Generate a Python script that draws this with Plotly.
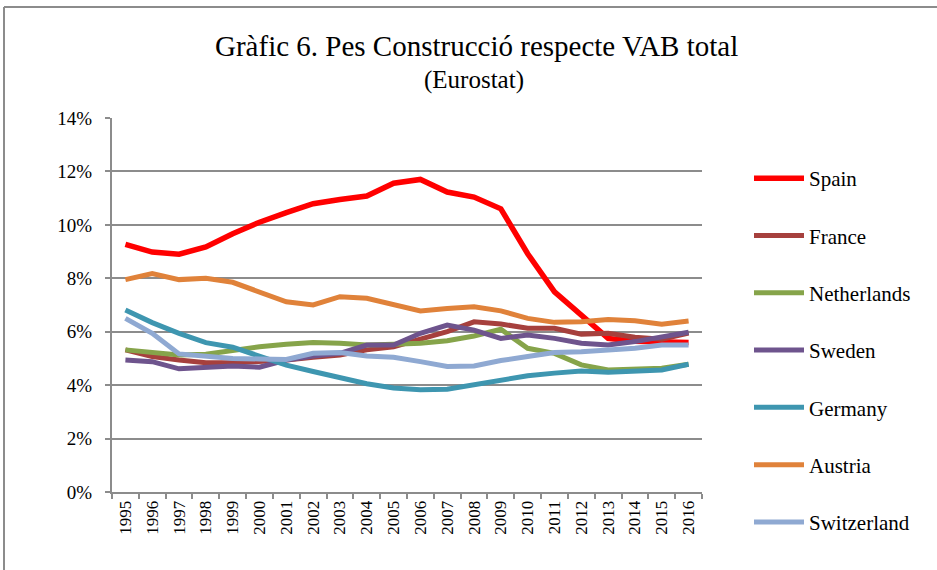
import plotly.graph_objects as go

years = [str(y) for y in range(1995, 2017)]

spain = [9.27, 8.98, 8.90, 9.17, 9.67, 10.10, 10.46, 10.79, 10.95, 11.08, 11.56,
         11.70, 11.23, 11.04, 10.60, 8.92, 7.49, 6.65, 5.75, 5.64, 5.60, 5.60]
france = [5.32, 5.07, 4.94, 4.84, 4.84, 4.88, 4.94, 5.04, 5.13, 5.32, 5.44,
          5.72, 6.00, 6.37, 6.29, 6.13, 6.13, 5.91, 5.94, 5.79, 5.72, 5.95]
netherlands = [5.32, 5.22, 5.13, 5.16, 5.32, 5.44, 5.53, 5.60, 5.57, 5.50, 5.53,
               5.57, 5.66, 5.84, 6.09, 5.38, 5.19, 4.76, 4.57, 4.60, 4.63, 4.78]
sweden = [4.94, 4.88, 4.61, 4.66, 4.72, 4.67, 4.94, 5.09, 5.19, 5.50, 5.50,
          5.94, 6.25, 6.06, 5.75, 5.88, 5.75, 5.57, 5.50, 5.63, 5.79, 5.98]
germany = [6.81, 6.34, 5.94, 5.59, 5.42, 5.07, 4.75, 4.51, 4.30, 4.05, 3.89,
           3.83, 3.85, 4.01, 4.20, 4.35, 4.45, 4.53, 4.48, 4.54, 4.57, 4.78]
austria = [7.95, 8.18, 7.95, 8.00, 7.85, 7.49, 7.12, 7.00, 7.31, 7.25, 7.03,
           6.78, 6.87, 6.93, 6.78, 6.50, 6.35, 6.37, 6.46, 6.41, 6.28, 6.40]
switzerland = [6.50, 5.94, 5.17, 5.07, 5.00, 4.98, 4.96, 5.19, 5.22, 5.09, 5.04,
               4.88, 4.70, 4.72, 4.92, 5.07, 5.22, 5.25, 5.32, 5.38, 5.50, 5.50]

series_names = ["Spain", "France", "Netherlands", "Sweden", "Germany", "Austria", "Switzerland"]
series_values = [spain, france, netherlands, sweden, germany, austria, switzerland]
colors = ["#FF0000", "#A6403D", "#86A44A", "#6E548D", "#3E96B0", "#E0823A", "#8FA9D2"]

y_ticks = [0, 2, 4, 6, 8, 10, 12, 14]
y_tick_labels = [f"{v}%" for v in y_ticks]

FONT = "Liberation Serif, Times New Roman, serif"
GRID = "#8C8C8C"

fig = go.Figure()
for i, (name, vals, col) in enumerate(zip(series_names, series_values, colors)):
    fig.add_trace(go.Scatter(
        x=years, y=vals, name=name, mode="lines",
        line=dict(color=col, width=5.5 if i == 0 else 5),
        legendgroup=f"g{i}",
    ))

W, H = 937, 570
L, R, T, B = 112, 235, 118, 78
pw, ph = W - L - R, H - T - B

def px_x(p):
    return (p - L) / pw

def px_y(p):
    return (H - B - p) / ph

fig.update_layout(
    width=W, height=H,
    margin=dict(l=L, r=R, t=T, b=B),
    paper_bgcolor="white", plot_bgcolor="white",
    font=dict(family=FONT, color="black"),
    showlegend=True,
    legend=dict(
        x=px_x(749), y=px_y(158), xanchor="left", yanchor="top",
        font=dict(family=FONT, size=21, color="black"),
        tracegroupgap=27, itemwidth=50, maxheight=560,
        bgcolor="rgba(0,0,0,0)",
    ),
    xaxis=dict(
        type="category", tickangle=-90, tickson="boundaries",
        ticks="outside", ticklen=5, tickcolor=GRID, tickwidth=2,
        showline=True, linecolor=GRID, linewidth=2,
        showgrid=False, range=[-0.5, len(years) - 0.5],
        tickfont=dict(family=FONT, size=17, color="black"),
    ),
    yaxis=dict(
        range=[0, 14], tickvals=y_ticks, ticktext=y_tick_labels,
        ticks="outside", ticklen=5, tickcolor=GRID, tickwidth=2,
        showline=True, linecolor=GRID, linewidth=2,
        showgrid=True, gridcolor=GRID, gridwidth=2, zeroline=False,
        tickfont=dict(family=FONT, size=19, color="black"),
        ticklabelstandoff=9,
    ),
    annotations=[
        dict(text="Gràfic 6. Pes Construcció respecte VAB total", x=px_x(476), y=px_y(46),
             xref="paper", yref="paper", showarrow=False, xanchor="center", yanchor="middle",
             font=dict(family=FONT, size=29, color="black")),
        dict(text="(Eurostat)", x=px_x(474), y=px_y(80),
             xref="paper", yref="paper", showarrow=False, xanchor="center", yanchor="middle",
             font=dict(family=FONT, size=25, color="black")),
    ],
    shapes=[
        dict(type="line", xref="paper", yref="paper", x0=px_x(4), x1=px_x(W), y0=px_y(7), y1=px_y(7),
             line=dict(color=GRID, width=2)),
        dict(type="line", xref="paper", yref="paper", x0=px_x(4), x1=px_x(4), y0=px_y(7), y1=px_y(H),
             line=dict(color=GRID, width=2)),
    ],
)

fig.write_html("out.html", config={"displayModeBar": False},
               post_script="document.body.style.margin='0';")
